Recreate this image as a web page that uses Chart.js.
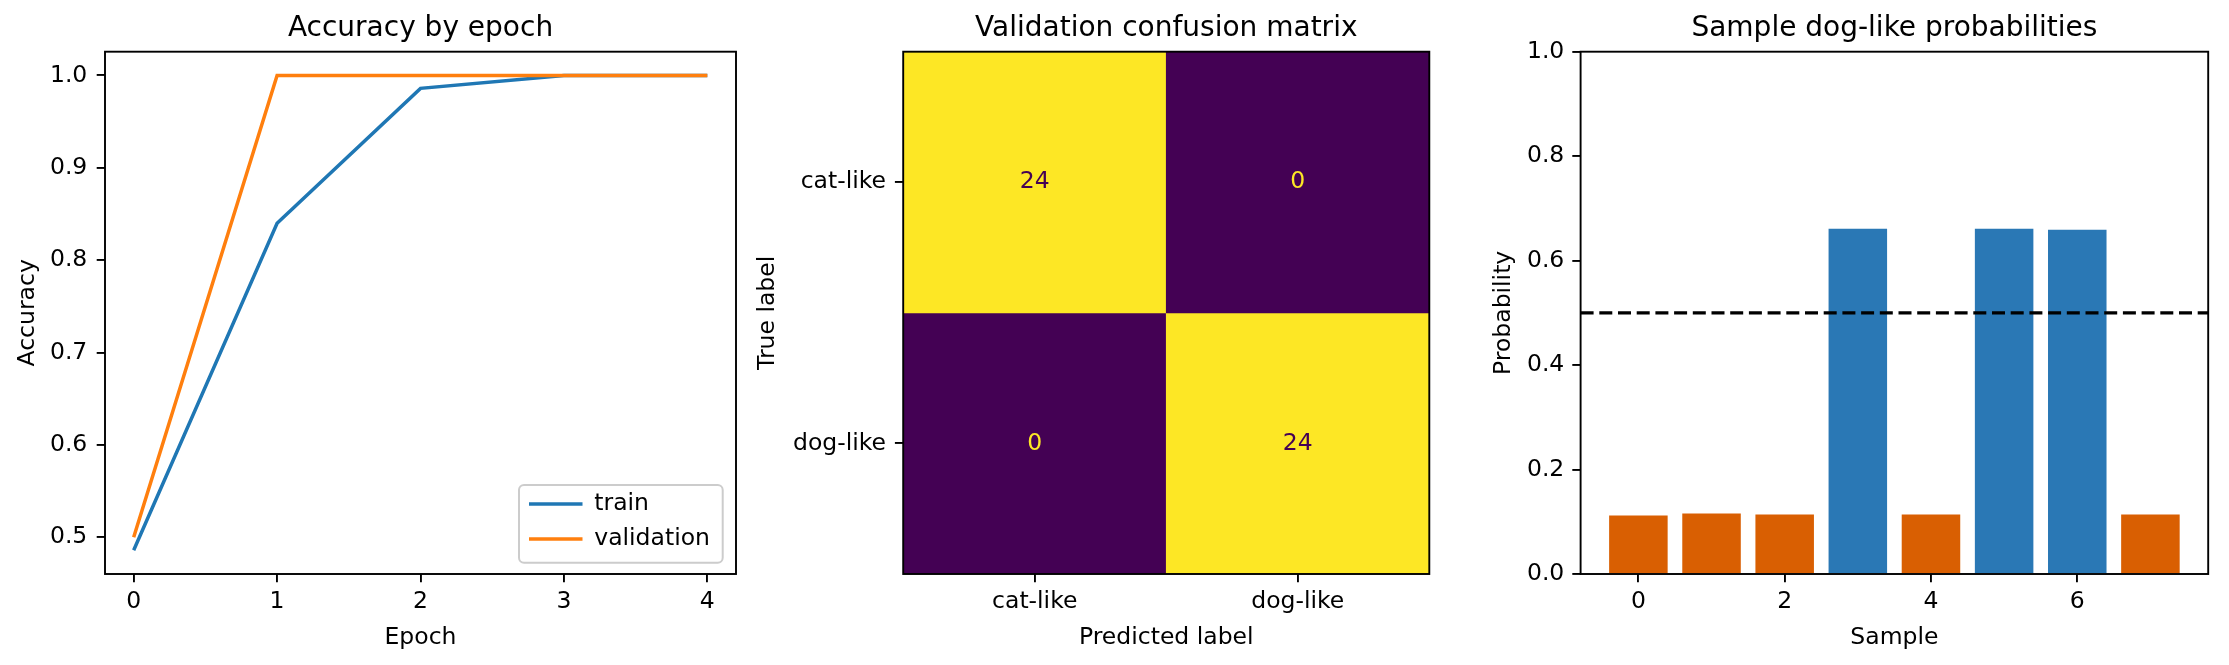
<!DOCTYPE html>
<html>
<head>
<meta charset="utf-8">
<script src="https://cdn.jsdelivr.net/npm/chart.js@4.4.1/dist/chart.umd.min.js"></script>
<style>
  body { margin: 0; background: #fff; overflow: hidden; }
  canvas { position: absolute; top: 0; }
</style>
</head>
<body>
<canvas id="accChart" width="750" height="665" style="left:0px"></canvas>
<canvas id="cmChart" width="690" height="665" style="left:750px"></canvas>
<canvas id="probChart" width="789" height="665" style="left:1440px"></canvas>
<script>
// data
const epochs = [0, 1, 2, 3, 4];
const trainAcc = [0.486, 0.840, 0.986, 1.0, 1.0];
const valAcc = [0.5, 1.0, 1.0, 1.0, 1.0];
const accTicks = [0.5, 0.6, 0.7, 0.8, 0.9, 1.0];

const classLabels = ['cat-like', 'dog-like'];
const confusion = [[24, 0], [0, 24]]; // rows = true, cols = predicted

const samples = [0, 1, 2, 3, 4, 5, 6, 7];
const dogProb = [0.112, 0.116, 0.114, 0.661, 0.114, 0.661, 0.659, 0.114];
const threshold = 0.5;
const sampleTicks = [0, 2, 4, 6];
const probTicks = [0, 0.2, 0.4, 0.6, 0.8, 1.0];

const LABEL_PX = 23.5;
const TITLE_PX = 28;
const FONT = "'DejaVu Sans', sans-serif";
const CMAP_LO = '#440154';
const CMAP_HI = '#fde725';

Chart.defaults.font.family = FONT;
Chart.defaults.font.size = LABEL_PX;
Chart.defaults.color = '#000';
Chart.defaults.animation = false;

// matplotlib style margins (5%)
function padRange(lo, hi) {
    const p = (hi - lo) * 0.05;
    return [lo - p, hi + p];
}

function chartTitle(text) {
    return {
        display: true,
        text: text,
        fullSize: false,
        color: '#000',
        font: { size: TITLE_PX, weight: 'normal' },
        padding: { top: 12.2, bottom: 5.9 }
    };
}

function axis(extra) {
    const base = {
        grid: { drawOnChartArea: false, color: '#000', tickColor: '#000', tickLength: 8.3, tickWidth: 1.9, lineWidth: 1.9 },
        border: { display: false },
        ticks: { color: '#000', font: { size: LABEL_PX }, autoSkip: false, maxRotation: 0 },
    };
    return Object.assign(base, extra);
}

// full box round the axes
const framePlugin = {
    id: 'frame',
    afterDatasetsDraw(chart) {
        const { ctx, chartArea: a } = chart;
        ctx.save();
        ctx.strokeStyle = '#000';
        ctx.lineWidth = 1.9;
        ctx.strokeRect(a.left, a.top, a.right - a.left, a.bottom - a.top);
        ctx.restore();
    }
};

// put the legend in the lower right corner, with a frame like matplotlib
const legendBoxPlugin = {
    id: 'legendBox',
    beforeDraw(chart) {
        const lg = chart.legend;
        const a = chart.chartArea;
        lg.left = a.right - 218.5;
        lg.right = a.right - 10;
        lg.top = a.bottom - 100;
        lg.bottom = a.bottom - 11.75;
        lg.width = lg.right - lg.left;
        lg.height = lg.bottom - lg.top;

        const ctx = chart.ctx;
        ctx.save();
        ctx.beginPath();
        ctx.roundRect(a.right - 217, a.bottom - 89, 203.7, 77.7, 5);
        ctx.fillStyle = 'rgba(255,255,255,0.8)';
        ctx.fill();
        ctx.strokeStyle = '#cccccc';
        ctx.lineWidth = 2;
        ctx.stroke();
        ctx.restore();
    }
};

// ---------- accuracy by epoch ----------
const accX = padRange(Math.min(...epochs), Math.max(...epochs));
const allAcc = trainAcc.concat(valAcc);
const accY = padRange(Math.min(...allAcc), Math.max(...allAcc));

new Chart(document.getElementById('accChart'), {
    type: 'line',
    data: {
        datasets: [
            {
                label: 'train',
                data: epochs.map((e, i) => ({ x: e, y: trainAcc[i] })),
                borderColor: '#1f77b4',
                backgroundColor: '#1f77b4',
                borderWidth: 3.5,
                pointRadius: 0,
                order: 1
            },
            {
                label: 'validation',
                data: epochs.map((e, i) => ({ x: e, y: valAcc[i] })),
                borderColor: '#ff7f0e',
                backgroundColor: '#ff7f0e',
                borderWidth: 3.5,
                pointRadius: 0,
                order: 0
            }
        ]
    },
    options: {
        responsive: false,
        events: [],
        layout: { padding: { left: 0, top: 0, right: 14, bottom: 0 } },
        plugins: {
            title: chartTitle('Accuracy by epoch'),
            tooltip: { enabled: false },
            legend: {
                position: 'chartArea',
                align: 'end',
                labels: {
                    usePointStyle: true,
                    pointStyle: 'line',
                    pointStyleWidth: 53.5,
                    padding: 11.5,
                    color: '#000',
                    font: { size: LABEL_PX },
                    sort: (a, b) => a.datasetIndex - b.datasetIndex
                }
            }
        },
        scales: {
            x: axis({
                type: 'linear',
                min: accX[0],
                max: accX[1],
                afterBuildTicks: s => { s.ticks = epochs.map(v => ({ value: v })); },
                afterFit: s => { s.height = 91; },
                ticks: { color: '#000', font: { size: LABEL_PX }, padding: 5.3, autoSkip: false, maxRotation: 0, callback: v => String(v) },
                title: { display: true, text: 'Epoch', color: '#000', font: { size: LABEL_PX }, padding: { top: 0, bottom: 12.9 } }
            }),
            y: axis({
                type: 'linear',
                min: accY[0],
                max: accY[1],
                afterBuildTicks: s => { s.ticks = accTicks.map(v => ({ value: v })); },
                afterFit: s => { s.width = 105; },
                ticks: { color: '#000', font: { size: LABEL_PX }, padding: 9.4, autoSkip: false, callback: v => v.toFixed(1) },
                title: { display: true, text: 'Accuracy', color: '#000', font: { size: LABEL_PX }, padding: { top: 13.4, bottom: 0 } }
            })
        }
    },
    plugins: [legendBoxPlugin, framePlugin]
});

// ---------- confusion matrix ----------
const cmValues = confusion.flat();
const cmMin = Math.min(...cmValues), cmMax = Math.max(...cmValues);
function cellColor(v) {
    const t = (v - cmMin) / (cmMax - cmMin);
    return t > 0.5 ? CMAP_HI : CMAP_LO;
}

const cellTextPlugin = {
    id: 'cellText',
    afterDatasetsDraw(chart) {
        const ctx = chart.ctx;
        ctx.save();
        ctx.font = LABEL_PX + 'px ' + FONT;
        ctx.textAlign = 'center';
        ctx.textBaseline = 'middle';
        chart.data.datasets.forEach((ds, i) => {
            chart.getDatasetMeta(i).data.forEach((bar, j) => {
                const v = confusion[i][j];
                ctx.fillStyle = cellColor(v) === CMAP_HI ? CMAP_LO : CMAP_HI;
                ctx.fillText(String(v), bar.x, (bar.y + bar.base) / 2);
            });
        });
        ctx.restore();
    }
};

new Chart(document.getElementById('cmChart'), {
    type: 'bar',
    data: {
        labels: classLabels,
        datasets: confusion.map((row, i) => ({
            label: classLabels[i],
            data: row.map(() => [i, i + 1]),
            backgroundColor: row.map(cellColor),
            borderWidth: 0,
            barPercentage: 1,
            categoryPercentage: 1
        }))
    },
    options: {
        responsive: false,
        events: [],
        layout: { padding: { left: 0, top: 0, right: 10.7, bottom: 0 } },
        plugins: {
            title: chartTitle('Validation confusion matrix'),
            tooltip: { enabled: false },
            legend: { display: false }
        },
        scales: {
            x: axis({
                type: 'category',
                stacked: true,
                offset: true,
                grid: { offset: false, drawOnChartArea: false, color: '#000', tickColor: '#000', tickLength: 8.3, tickWidth: 1.9, lineWidth: 1.9 },
                afterFit: s => { s.height = 91; },
                ticks: { color: '#000', font: { size: LABEL_PX }, padding: 5.3, autoSkip: false, maxRotation: 0 },
                title: { display: true, text: 'Predicted label', color: '#000', font: { size: LABEL_PX }, padding: { top: 0, bottom: 12.9 } }
            }),
            y: axis({
                type: 'linear',
                stacked: false,
                reverse: true,
                min: 0,
                max: classLabels.length,
                afterBuildTicks: s => { s.ticks = classLabels.map((c, i) => ({ value: i + 0.5 })); },
                afterFit: s => { s.width = 153.2; },
                ticks: { color: '#000', font: { size: LABEL_PX }, padding: 8.9, autoSkip: false, callback: v => classLabels[Math.floor(v)] },
                title: { display: true, text: 'True label', color: '#000', font: { size: LABEL_PX }, padding: { top: 3.9, bottom: 0 } }
            })
        }
    },
    plugins: [cellTextPlugin, framePlugin]
});

// ---------- sample probabilities ----------
const probX = padRange(Math.min(...samples) - 0.4, Math.max(...samples) + 0.4);

new Chart(document.getElementById('probChart'), {
    type: 'bar',
    data: {
        datasets: [
            {
                type: 'line',
                label: 'threshold',
                data: [{ x: probX[0], y: threshold }, { x: probX[1], y: threshold }],
                borderColor: '#000',
                borderWidth: 3.3,
                borderDash: [13, 5.7],
                pointRadius: 0,
                order: 0
            },
            {
                label: 'dog-like probability',
                data: samples.map((s, i) => ({ x: s, y: dogProb[i] })),
                backgroundColor: dogProb.map(p => p >= threshold ? '#2a78b5' : '#d95f02'),
                borderWidth: 0,
                barPercentage: 0.8,
                categoryPercentage: 1,
                order: 1
            }
        ]
    },
    options: {
        responsive: false,
        events: [],
        layout: { padding: { left: 0, top: 0, right: 20.8, bottom: 0 } },
        plugins: {
            title: chartTitle('Sample dog-like probabilities'),
            tooltip: { enabled: false },
            legend: { display: false }
        },
        scales: {
            x: axis({
                type: 'linear',
                offset: false,
                min: probX[0],
                max: probX[1],
                grid: { offset: false, drawOnChartArea: false, color: '#000', tickColor: '#000', tickLength: 8.3, tickWidth: 1.9, lineWidth: 1.9 },
                afterBuildTicks: s => { s.ticks = sampleTicks.map(v => ({ value: v })); },
                afterFit: s => { s.height = 91; },
                ticks: { color: '#000', font: { size: LABEL_PX }, padding: 5.3, autoSkip: false, maxRotation: 0, callback: v => String(v) },
                title: { display: true, text: 'Sample', color: '#000', font: { size: LABEL_PX }, padding: { top: 0, bottom: 12.9 } }
            }),
            y: axis({
                type: 'linear',
                min: 0,
                max: 1,
                afterBuildTicks: s => { s.ticks = probTicks.map(v => ({ value: v })); },
                afterFit: s => { s.width = 140.6; },
                ticks: { color: '#000', font: { size: LABEL_PX }, padding: 8, autoSkip: false, callback: v => v.toFixed(1) },
                title: { display: true, text: 'Probability', color: '#000', font: { size: LABEL_PX }, padding: { top: 49.6, bottom: 0 } }
            })
        }
    },
    plugins: [framePlugin]
});
</script>
</body>
</html>
